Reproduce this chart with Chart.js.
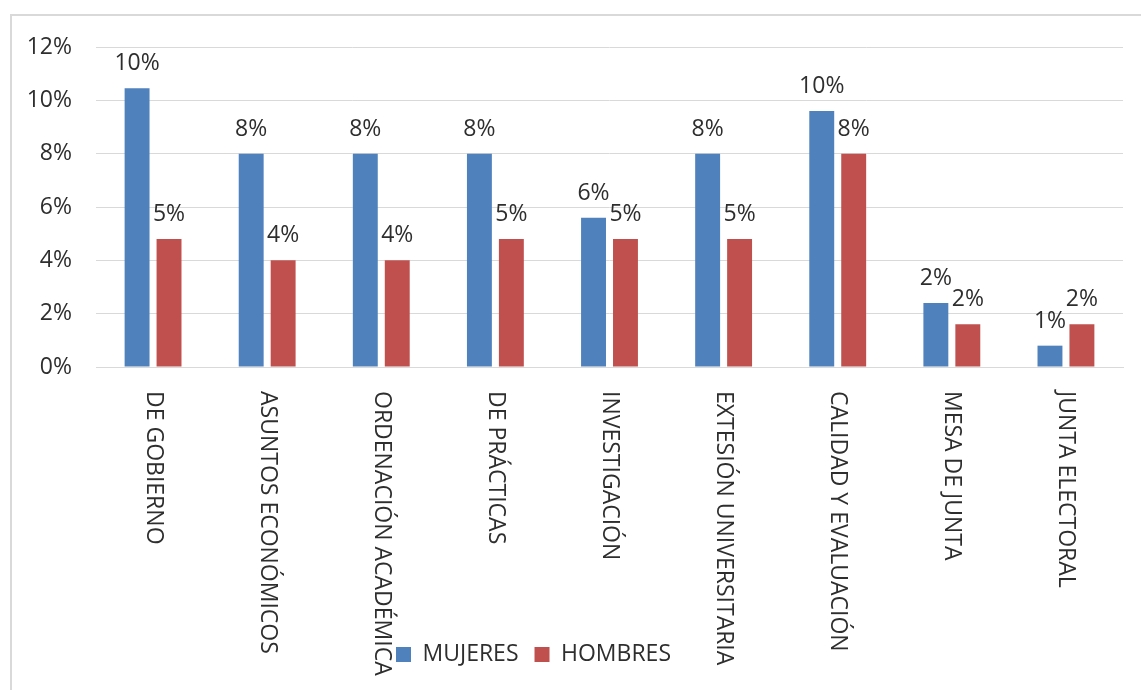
<!DOCTYPE html>
<html>
<head>
<meta charset="utf-8">
<script src="https://cdn.jsdelivr.net/npm/chart.js@4.4.1/dist/chart.umd.min.js"></script>
<style>
  html, body { margin: 0; padding: 0; background: #fff; overflow: hidden; }
  #wrap { position: relative; width: 1141px; height: 690px; }
  #frame { position: absolute; left: 10px; top: 14px; width: 1200px; height: 800px; border: 2px solid #d9d9d9; box-sizing: border-box; }
  canvas { position: absolute; left: 0; top: 0; }
</style>
</head>
<body>
<div id="wrap">
  <div id="frame"></div>
  <canvas id="c" width="1141" height="690"></canvas>
</div>
<script>
const categories = ["DE GOBIERNO", "ASUNTOS ECONÓMICOS", "ORDENACIÓN ACADÉMICA", "DE PRÁCTICAS", "INVESTIGACIÓN", "EXTESIÓN UNIVERSITARIA", "CALIDAD Y EVALUACIÓN", "MESA DE JUNTA", "JUNTA ELECTORAL"];
const mujeres = [10.45, 8.0, 8.0, 8.0, 5.6, 8.0, 9.6, 2.4, 0.8];
const hombres = [4.8, 4.0, 4.0, 4.8, 4.8, 4.8, 8.0, 1.6, 1.6];
const yTicks = [0, 2, 4, 6, 8, 10, 12];
const seriesNames = ["MUJERES", "HOMBRES"];

const FONT = "'Open Sans', sans-serif";
const TEXT = '#2e2e2e';

const dataLabels = {
  id: 'dataLabels',
  afterDatasetsDraw(chart) {
    const ctx = chart.ctx;
    ctx.save();
    ctx.font = "23px " + FONT;
    ctx.fillStyle = TEXT;
    ctx.textAlign = 'center';
    ctx.textBaseline = 'alphabetic';
    chart.data.datasets.forEach((ds, di) => {
      const meta = chart.getDatasetMeta(di);
      meta.data.forEach((bar, i) => {
        ctx.fillText(Math.round(ds.data[i]) + '%', bar.x, bar.y - 18);
      });
    });
    ctx.restore();
  }
};

const catLabels = {
  id: 'catLabels',
  afterDraw(chart) {
    const ctx = chart.ctx;
    const xs = chart.scales.x;
    ctx.save();
    ctx.font = "23px " + FONT;
    ctx.fillStyle = TEXT;
    ctx.textAlign = 'left';
    ctx.textBaseline = 'middle';
    categories.forEach((c, i) => {
      const x = xs.getPixelForValue(i);
      ctx.save();
      ctx.translate(x, chart.chartArea.bottom + 24);
      ctx.rotate(Math.PI / 2);
      ctx.fillText(c, 0, 0);
      ctx.restore();
    });
    ctx.restore();
  }
};

const shiftLegend = {
  id: 'shiftLegend',
  afterLayout(chart) {
    const lg = chart.legend;
    if (lg) { lg.left -= 28; lg.right -= 28; }
  }
};

new Chart(document.getElementById('c'), {
  type: 'bar',
  data: {
    labels: categories,
    datasets: [
      { label: seriesNames[0], data: mujeres, backgroundColor: '#4f81bd' },
      { label: seriesNames[1], data: hombres, backgroundColor: '#c0504d' }
    ]
  },
  options: {
    responsive: false,
    animation: false,
    devicePixelRatio: 1,
    layout: { padding: { left: 0, right: 18, top: 47, bottom: 14 } },
    datasets: { bar: { categoryPercentage: 0.56, barPercentage: 0.78 } },
    plugins: {
      legend: {
        position: 'bottom',
        labels: {
          font: { family: FONT, size: 23 },
          color: TEXT,
          boxWidth: 15,
          boxHeight: 15,
          padding: 16
        }
      },
      tooltip: { enabled: false }
    },
    scales: {
      x: {
        grid: { display: false, drawTicks: false },
        border: { display: true, color: '#d9d9d9', width: 1 },
        ticks: { display: false },
        afterFit(scale) { scale.height = 260; }
      },
      y: {
        min: 0, max: 12,
        afterBuildTicks(scale) { scale.ticks = yTicks.map(v => ({ value: v })); },
        grid: { color: '#d9d9d9', lineWidth: 1, drawTicks: false },
        border: { display: false },
        ticks: {
          font: { family: FONT, size: 23 },
          color: TEXT,
          padding: 24,
          callback: v => v + '%'
        },
        afterFit(scale) { scale.width = 96; }
      }
    }
  },
  plugins: [dataLabels, catLabels, shiftLegend]
});
</script>
</body>
</html>
